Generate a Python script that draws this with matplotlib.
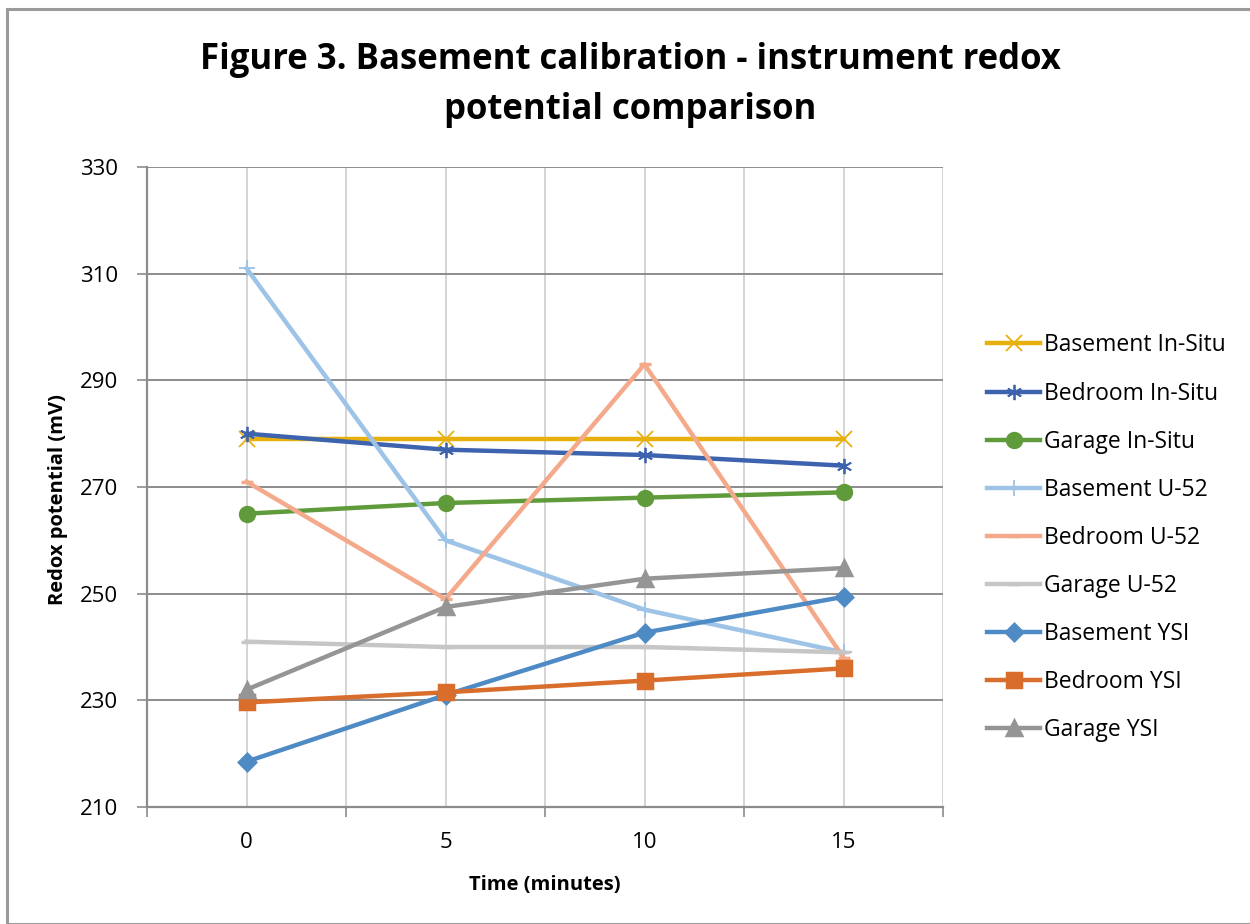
import matplotlib
matplotlib.use("Agg")
import matplotlib.pyplot as plt
from matplotlib.ticker import FixedLocator
from matplotlib.patches import Rectangle

plt.rcParams['font.family'] = ['Open Sans', 'DejaVu Sans']

time_min = [0, 5, 10, 15]
y_ticks = [210, 230, 250, 270, 290, 310, 330]
series_names = ["Basement In-Situ", "Bedroom In-Situ", "Garage In-Situ",
                "Basement U-52", "Bedroom U-52", "Garage U-52",
                "Basement YSI", "Bedroom YSI", "Garage YSI"]
basement_insitu = [279, 279, 279, 279]
bedroom_insitu = [280, 277, 276, 274]
garage_insitu = [265, 267, 268, 269]
basement_u52 = [311, 260, 247, 239]
bedroom_u52 = [271, 249, 293, 238]
garage_u52 = [241, 240, 240, 239]
basement_ysi = [218.5, 231, 242.7, 249.4]
bedroom_ysi = [229.6, 231.5, 233.7, 236]
garage_ysi = [232, 247.5, 252.8, 254.8]

values = [basement_insitu, bedroom_insitu, garage_insitu,
          basement_u52, bedroom_u52, garage_u52,
          basement_ysi, bedroom_ysi, garage_ysi]
colors = ["#E8B00C", "#3D63AF", "#5F9B3A",
          "#9DC3E6", "#F4AA8A", "#C6C6C6",
          "#4E8AC4", "#D96D2B", "#959595"]
markers = ["x", (6, 2, 0), "o", "+", "_", "_", "D", "s", "^"]
msizes = [11, 11, 10, 12, 8, 8, 8, 10, 10]

fig = plt.figure(figsize=(12.5, 9.24), dpi=100)
fig.patches.append(Rectangle((7/1250, 0), 1.0, 1 - 9/924, transform=fig.transFigure,
                             fill=False, edgecolor="#9A9A9A", linewidth=2.2))
ax = fig.add_axes([147/1250, 1 - 807/924, (943-147)/1250, (807-167)/924])

for name, vals, c, m, ms in zip(series_names, values, colors, markers, msizes):
    ax.plot(time_min, vals, color=c, linewidth=3.2, marker=m, markersize=ms,
            markeredgewidth=1.3 if m in ("x", "+", (6, 2, 0)) else 2.5,
            markerfacecolor=c, markeredgecolor=c, label=name, zorder=3)

ax.set_xlim(-2.5, 17.5)
ax.set_ylim(210, 330)
ax.xaxis.set_major_locator(FixedLocator(time_min))
ax.xaxis.set_minor_locator(FixedLocator([-2.5, 2.5, 7.5, 12.5, 17.5]))
ax.yaxis.set_major_locator(FixedLocator(y_ticks))
ax.tick_params(axis='x', which='major', length=0, labelsize=16, pad=18, colors='black')
ax.tick_params(axis='x', which='minor', length=7, width=1.2, color='#8C8C8C')
ax.tick_params(axis='y', which='major', length=7, width=1.2, color='#8C8C8C', labelsize=16, pad=14)
ax.grid(True, axis='x', which='both', color='#D4D4D4', linewidth=1.4, zorder=0)
ax.grid(True, axis='y', which='major', color='#8C8C8C', linewidth=1.4, zorder=0)
ax.set_axisbelow(True)
for s in ['top', 'right']:
    ax.spines[s].set_visible(False)
for s in ['left', 'bottom']:
    ax.spines[s].set_color('#8C8C8C')
    ax.spines[s].set_linewidth(1.6)

ax.set_xlabel("Time (minutes)", fontsize=14.5, fontweight='bold', labelpad=16)
ax.set_ylabel("Redox potential (mV)", fontsize=14.5, fontweight='bold')
ax.yaxis.set_label_coords(-0.099, (807 - 500) / 640)

fig.text(630/1250, 1 - 85/924, "Figure 3. Basement calibration - instrument redox\npotential comparison",
         ha='center', va='center', fontsize=25, fontweight='bold', linespacing=1.55)

leg = ax.legend(loc='upper left', bbox_to_anchor=(976/1250, 1 - 322/924),
                bbox_transform=fig.transFigure, frameon=False, fontsize=16.5,
                handlelength=2.3, handletextpad=0.15, labelspacing=1.05, borderpad=0)

fig.savefig("out.png", dpi=100)
